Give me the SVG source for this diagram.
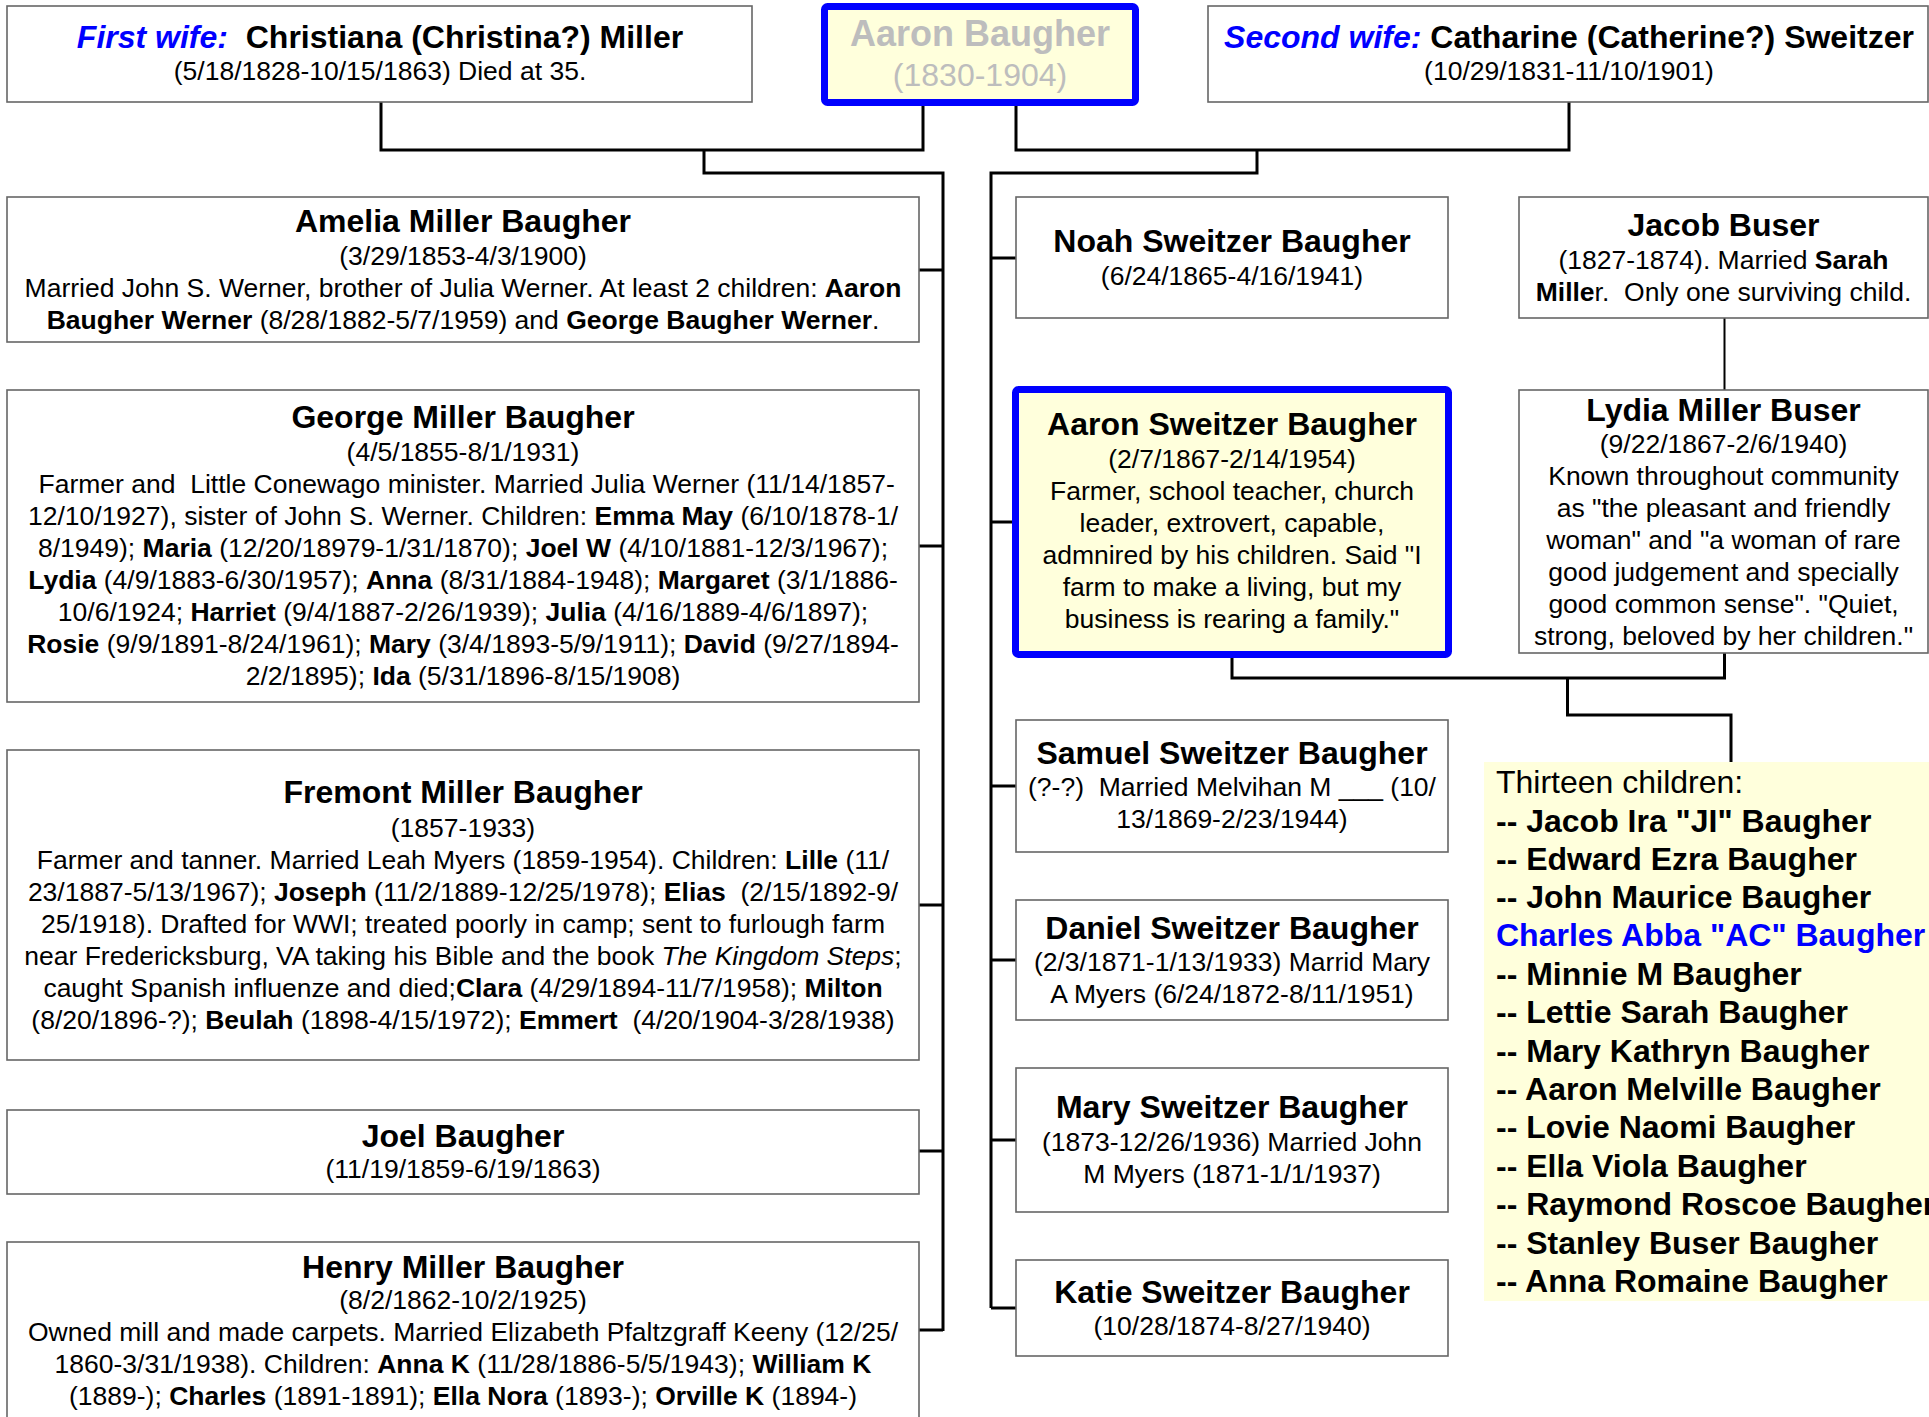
<svg xmlns="http://www.w3.org/2000/svg" width="1929" height="1417" viewBox="0 0 1929 1417">
<style>
text{font-family:"Liberation Sans",Arial,sans-serif;fill:#000;white-space:pre}
.box{fill:#fff;stroke:#666;stroke-width:1.6}
.hl{fill:#ffffdc;stroke:#0000ff;stroke-width:7}
.t{font-size:32px;font-weight:bold;text-anchor:middle}
.d{font-size:26.5px;text-anchor:middle}
.b{font-weight:bold}
.i{font-style:italic}
.blue{fill:#0000ff;font-weight:bold;font-style:italic}
.grey{fill:#bdbdbd}
.conn{fill:none;stroke:#000;stroke-width:3}
.thin{fill:none;stroke:#000;stroke-width:2}
.kid{font-size:32px;font-weight:bold}
</style>
<rect width="1929" height="1417" fill="#fff"/>
<g id="connectors">
<path class="conn" d="M381,102 V150 H923 V106"/>
<path class="conn" d="M704,150 V173 H943 V1331"/>
<path class="conn" d="M919,270 H943 M919,546 H943 M919,905 H943 M919,1151 H943 M919,1330 H943"/>
<path class="conn" d="M1016,106 V150 H1569 V102"/>
<path class="conn" d="M1257,150 V173 H991 V1308"/>
<path class="conn" d="M991,258 H1016 M991,522 H1013 M991,786 H1016 M991,960 H1016 M991,1140 H1016 M991,1308 H1016"/>
<path class="thin" d="M1724.5,318 V390"/>
<path class="conn" d="M1232,658 V678 H1724.5 V653"/>
<path class="conn" d="M1567.5,678 V715 H1731 V762"/>
</g>
<g id="first-wife">
<rect class="box" x="7" y="6" width="745" height="96"/>
<text class="t" x="380" y="48"><tspan class="blue">First wife:</tspan>  Christiana (Christina?) Miller</text>
<text class="d" x="380" y="80">(5/18/1828-10/15/1863) Died at 35.</text>
</g>
<g id="aaron-baugher">
<rect class="hl" x="824.5" y="6.5" width="311" height="96" rx="3"/>
<text class="t grey" x="980" y="46" style="font-size:36px">Aaron Baugher</text>
<text class="d grey" x="980" y="86" style="font-size:32px">(1830-1904)</text>
</g>
<g id="second-wife">
<rect class="box" x="1208" y="6" width="720" height="96"/>
<text class="t" x="1569" y="48"><tspan class="blue">Second wife:</tspan> Catharine (Catherine?) Sweitzer</text>
<text class="d" x="1569" y="80">(10/29/1831-11/10/1901)</text>
</g>
<g id="amelia">
<rect class="box" x="7" y="197" width="912" height="145"/>
<text class="t" x="463" y="232">Amelia Miller Baugher</text>
<text class="d" x="463" y="265">(3/29/1853-4/3/1900)</text>
<text class="d" x="463" y="297">Married John S. Werner, brother of Julia Werner. At least 2 children: <tspan class="b">Aaron</tspan></text>
<text class="d" x="463" y="329"><tspan class="b">Baugher Werner</tspan> (8/28/1882-5/7/1959) and <tspan class="b">George Baugher Werner</tspan>.</text>
</g>
<g id="george">
<rect class="box" x="7" y="390" width="912" height="312"/>
<text class="t" x="463" y="428">George Miller Baugher</text>
<text class="d" x="463" y="461">(4/5/1855-8/1/1931)</text>
<text class="d" x="463" y="493"> Farmer and  Little Conewago minister. Married Julia Werner (11/14/1857-</text>
<text class="d" x="463" y="525">12/10/1927), sister of John S. Werner. Children: <tspan class="b">Emma May</tspan> (6/10/1878-1/</text>
<text class="d" x="463" y="557">8/1949); <tspan class="b">Maria</tspan> (12/20/18979-1/31/1870); <tspan class="b">Joel W</tspan> (4/10/1881-12/3/1967);</text>
<text class="d" x="463" y="589"><tspan class="b">Lydia</tspan> (4/9/1883-6/30/1957); <tspan class="b">Anna</tspan> (8/31/1884-1948); <tspan class="b">Margaret</tspan> (3/1/1886-</text>
<text class="d" x="463" y="621">10/6/1924; <tspan class="b">Harriet</tspan> (9/4/1887-2/26/1939); <tspan class="b">Julia</tspan> (4/16/1889-4/6/1897);</text>
<text class="d" x="463" y="653"><tspan class="b">Rosie</tspan> (9/9/1891-8/24/1961); <tspan class="b">Mary</tspan> (3/4/1893-5/9/1911); <tspan class="b">David</tspan> (9/27/1894-</text>
<text class="d" x="463" y="685">2/2/1895); <tspan class="b">Ida</tspan> (5/31/1896-8/15/1908)</text>
</g>
<g id="fremont">
<rect class="box" x="7" y="750" width="912" height="310"/>
<text class="t" x="463" y="803">Fremont Miller Baugher</text>
<text class="d" x="463" y="837">(1857-1933)</text>
<text class="d" x="463" y="869">Farmer and tanner. Married Leah Myers (1859-1954). Children: <tspan class="b">Lille</tspan> (11/</text>
<text class="d" x="463" y="901">23/1887-5/13/1967); <tspan class="b">Joseph</tspan> (11/2/1889-12/25/1978); <tspan class="b">Elias</tspan>  (2/15/1892-9/</text>
<text class="d" x="463" y="933">25/1918). Drafted for WWI; treated poorly in camp; sent to furlough farm</text>
<text class="d" x="463" y="965">near Fredericksburg, VA taking his Bible and the book <tspan class="i">The Kingdom Steps</tspan>;</text>
<text class="d" x="463" y="997">caught Spanish influenze and died;<tspan class="b">Clara</tspan> (4/29/1894-11/7/1958); <tspan class="b">Milton</tspan></text>
<text class="d" x="463" y="1029">(8/20/1896-?); <tspan class="b">Beulah</tspan> (1898-4/15/1972); <tspan class="b">Emmert</tspan>  (4/20/1904-3/28/1938)</text>
</g>
<g id="joel">
<rect class="box" x="7" y="1110" width="912" height="84"/>
<text class="t" x="463" y="1147">Joel Baugher</text>
<text class="d" x="463" y="1178">(11/19/1859-6/19/1863)</text>
</g>
<g id="henry">
<rect class="box" x="7" y="1242" width="912" height="180"/>
<text class="t" x="463" y="1278">Henry Miller Baugher</text>
<text class="d" x="463" y="1309">(8/2/1862-10/2/1925)</text>
<text class="d" x="463" y="1341">Owned mill and made carpets. Married Elizabeth Pfaltzgraff Keeny (12/25/</text>
<text class="d" x="463" y="1373">1860-3/31/1938). Children: <tspan class="b">Anna K</tspan> (11/28/1886-5/5/1943); <tspan class="b">William K</tspan></text>
<text class="d" x="463" y="1405">(1889-); <tspan class="b">Charles</tspan> (1891-1891); <tspan class="b">Ella Nora</tspan> (1893-); <tspan class="b">Orville K</tspan> (1894-)</text>
</g>
<g id="noah">
<rect class="box" x="1016" y="197" width="432" height="121"/>
<text class="t" x="1232" y="252">Noah Sweitzer Baugher</text>
<text class="d" x="1232" y="285">(6/24/1865-4/16/1941)</text>
</g>
<g id="jacob-buser">
<rect class="box" x="1519" y="197" width="409" height="121"/>
<text class="t" x="1723.5" y="236">Jacob Buser</text>
<text class="d" x="1723.5" y="269">(1827-1874). Married <tspan class="b">Sarah</tspan></text>
<text class="d" x="1723.5" y="301"><tspan class="b">Mille</tspan>r.  Only one surviving child.</text>
</g>
<g id="aaron-sweitzer">
<rect class="hl" x="1015.5" y="389.5" width="433" height="265" rx="3"/>
<text class="t" x="1232" y="435">Aaron Sweitzer Baugher</text>
<text class="d" x="1232" y="468">(2/7/1867-2/14/1954)</text>
<text class="d" x="1232" y="500">Farmer, school teacher, church</text>
<text class="d" x="1232" y="532">leader, extrovert, capable,</text>
<text class="d" x="1232" y="564">admnired by his children. Said "I</text>
<text class="d" x="1232" y="596">farm to make a living, but my</text>
<text class="d" x="1232" y="628">business is rearing a family."</text>
</g>
<g id="lydia-buser">
<rect class="box" x="1519" y="390" width="409" height="263"/>
<text class="t" x="1723.5" y="421">Lydia Miller Buser</text>
<text class="d" x="1723.5" y="453">(9/22/1867-2/6/1940)</text>
<text class="d" x="1723.5" y="485">Known throughout community</text>
<text class="d" x="1723.5" y="517">as "the pleasant and friendly</text>
<text class="d" x="1723.5" y="549">woman" and "a woman of rare</text>
<text class="d" x="1723.5" y="581">good judgement and specially</text>
<text class="d" x="1723.5" y="613">good common sense". "Quiet,</text>
<text class="d" x="1723.5" y="645">strong, beloved by her children."</text>
</g>
<g id="samuel">
<rect class="box" x="1016" y="720" width="432" height="132"/>
<text class="t" x="1232" y="764">Samuel Sweitzer Baugher</text>
<text class="d" x="1232" y="796">(?-?)  Married Melvihan M ___ (10/</text>
<text class="d" x="1232" y="828">13/1869-2/23/1944)</text>
</g>
<g id="daniel">
<rect class="box" x="1016" y="900" width="432" height="120"/>
<text class="t" x="1232" y="939">Daniel Sweitzer Baugher</text>
<text class="d" x="1232" y="971">(2/3/1871-1/13/1933) Marrid Mary</text>
<text class="d" x="1232" y="1003">A Myers (6/24/1872-8/11/1951)</text>
</g>
<g id="mary">
<rect class="box" x="1016" y="1068" width="432" height="144"/>
<text class="t" x="1232" y="1118">Mary Sweitzer Baugher</text>
<text class="d" x="1232" y="1151">(1873-12/26/1936) Married John</text>
<text class="d" x="1232" y="1183">M Myers (1871-1/1/1937)</text>
</g>
<g id="katie">
<rect class="box" x="1016" y="1260" width="432" height="96"/>
<text class="t" x="1232" y="1303">Katie Sweitzer Baugher</text>
<text class="d" x="1232" y="1335">(10/28/1874-8/27/1940)</text>
</g>
<g id="thirteen-children">
<rect x="1484" y="762" width="445" height="539" fill="#ffffdc"/>
<text x="1496" y="793" style="font-size:32px">Thirteen children:</text>
<text class="kid" x="1496" y="832">-- Jacob Ira "JI" Baugher</text>
<text class="kid" x="1496" y="870">-- Edward Ezra Baugher</text>
<text class="kid" x="1496" y="908">-- John Maurice Baugher</text>
<text class="kid" x="1496" y="946" style="fill:#0000ff">Charles Abba "AC" Baugher</text>
<text class="kid" x="1496" y="985">-- Minnie M Baugher</text>
<text class="kid" x="1496" y="1023">-- Lettie Sarah Baugher</text>
<text class="kid" x="1496" y="1062">-- Mary Kathryn Baugher</text>
<text class="kid" x="1496" y="1100">-- Aaron Melville Baugher</text>
<text class="kid" x="1496" y="1138">-- Lovie Naomi Baugher</text>
<text class="kid" x="1496" y="1177">-- Ella Viola Baugher</text>
<text class="kid" x="1496" y="1215">-- Raymond Roscoe Baugher</text>
<text class="kid" x="1496" y="1254">-- Stanley Buser Baugher</text>
<text class="kid" x="1496" y="1292">-- Anna Romaine Baugher</text>
</g>
</svg>
